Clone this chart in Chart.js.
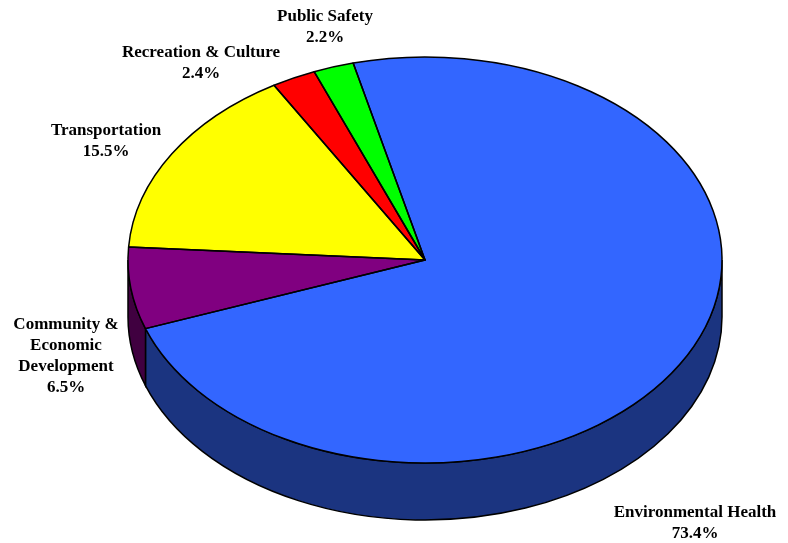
<!DOCTYPE html>
<html>
<head>
<meta charset="utf-8">
<script src="https://cdn.jsdelivr.net/npm/chart.js@4/dist/chart.umd.min.js"></script>
<style>
  html, body { margin: 0; padding: 0; background: #ffffff; overflow: hidden; }
  #wrap { width: 788px; height: 543px; position: relative; }
</style>
</head>
<body>
<div id="wrap"><canvas id="c" width="788" height="543"></canvas></div>
<script>
const categories = ['Environmental Health', 'Community & Economic Development', 'Transportation', 'Recreation & Culture', 'Public Safety'];
const shares = [73.4, 6.5, 15.5, 2.4, 2.2];
const labelLines = [['Environmental Health'], ['Community &', 'Economic', 'Development'], ['Transportation'], ['Recreation & Culture'], ['Public Safety']];
const topColors = ['#3366FF', '#800080', '#FFFF00', '#FF0000', '#00FF00'];
const sideColors = ['#1B3480', '#400040', '#808000', '#800000', '#008000'];

const SX = 297 / 203;   // horizontal stretch turning the circle into an ellipse
const DEPTH = 57;       // vertical thickness of the pie

function stretch(ctx, cx, cy) {
  ctx.translate(cx, cy);
  ctx.scale(SX, 1);
  ctx.translate(-cx, -cy);
}

const pie3d = {
  id: 'pie3d',
  beforeDatasetsDraw(chart) {
    const ctx = chart.ctx;
    const arcs = chart.getDatasetMeta(0).data;
    if (!arcs.length) return;
    const cx = arcs[0].x, cy = arcs[0].y;
    ctx.save();
    // side walls
    arcs.forEach((arc, i) => {
      const r = arc.outerRadius;
      for (let k = -1; k <= 1; k++) {
        const s = arc.startAngle + k * 2 * Math.PI;
        const e = arc.endAngle + k * 2 * Math.PI;
        const a0 = Math.max(s, 0), a1 = Math.min(e, Math.PI);
        if (a1 <= a0) continue;
        ctx.save();
        stretch(ctx, cx, cy);
        ctx.beginPath();
        ctx.arc(cx, cy, r, a0, a1);
        ctx.lineTo(cx + r * Math.cos(a1), cy + DEPTH + r * Math.sin(a1));
        ctx.arc(cx, cy + DEPTH, r, a1, a0, true);
        ctx.closePath();
        ctx.restore();
        ctx.fillStyle = sideColors[i];
        ctx.fill();
        ctx.lineWidth = 1.5;
        ctx.strokeStyle = '#000000';
        ctx.stroke();
      }
    });
    // stretch the library's own circular arcs into an ellipse
    stretch(ctx, cx, cy);
  },
  afterDatasetsDraw(chart) {
    const ctx = chart.ctx;
    ctx.restore();
    const arcs = chart.getDatasetMeta(0).data;
    if (!arcs.length) return;
    const cx = arcs[0].x, cy = arcs[0].y;
    arcs.forEach((arc) => {
      const r = arc.outerRadius;
      ctx.save();
      stretch(ctx, cx, cy);
      ctx.beginPath();
      ctx.moveTo(cx, cy);
      ctx.arc(cx, cy, r, arc.startAngle, arc.endAngle);
      ctx.closePath();
      ctx.restore();
      ctx.lineWidth = 1.5;
      ctx.strokeStyle = '#000000';
      ctx.lineJoin = 'round';
      ctx.stroke();
    });
  },
  afterDraw(chart, args, opts) {
    const ctx = chart.ctx;
    ctx.save();
    ctx.fillStyle = '#000000';
    ctx.font = 'bold 17px "Liberation Serif", "Times New Roman", serif';
    ctx.textAlign = 'center';
    ctx.textBaseline = 'alphabetic';
    labelLines.forEach((lines, i) => {
      const [x, y] = opts.positions[i];
      const all = lines.concat([shares[i].toFixed(1) + '%']);
      all.forEach((t, j) => ctx.fillText(t, x, y + j * opts.lineHeight));
    });
    ctx.restore();
  }
};

new Chart(document.getElementById('c'), {
  type: 'pie',
  data: {
    labels: categories,
    datasets: [{
      data: shares,
      backgroundColor: topColors,
      borderWidth: 0,
      radius: 203,
      clip: false
    }]
  },
  options: {
    responsive: false,
    animation: false,
    events: [],
    rotation: -14,
    layout: { padding: { left: 62, right: 0, top: 0, bottom: 23 } },
    plugins: {
      legend: { display: false },
      tooltip: { enabled: false },
      pie3d: {
        lineHeight: 21,
        positions: [[695, 517], [66, 329], [106, 135], [201, 57], [325, 21]]
      }
    }
  },
  plugins: [pie3d]
});
</script>
</body>
</html>
